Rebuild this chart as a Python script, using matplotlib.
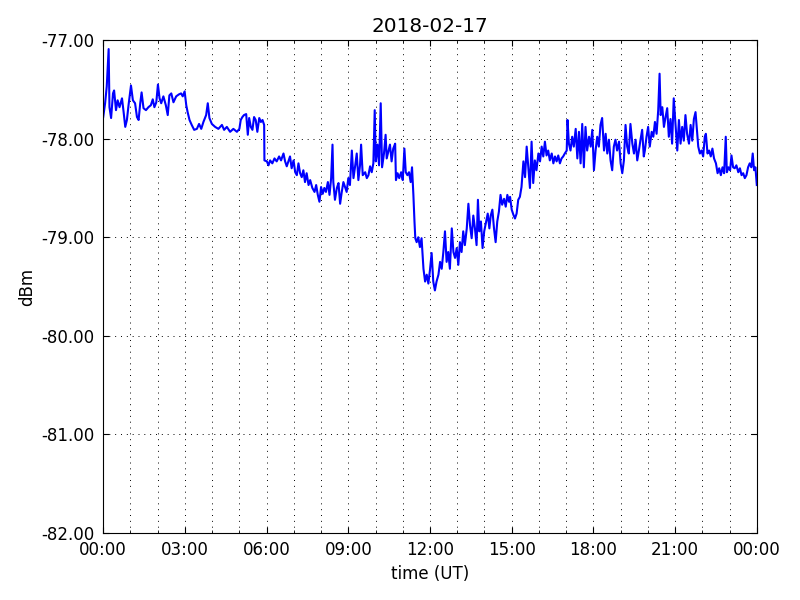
import matplotlib
matplotlib.use("Agg")
import matplotlib.pyplot as plt
import matplotlib.dates as mdates
from matplotlib.ticker import FormatStrFormatter
import numpy as np

day = "2018-02-17"

# hours after 00:00 UT and received level (dBm)
hours = [
    0.0, 0.07, 0.13, 0.2, 0.23, 0.29, 0.36, 0.4, 0.47, 0.53,
    0.6, 0.69, 0.75, 0.81, 0.87, 0.93, 1.02, 1.09, 1.17, 1.24,
    1.3, 1.36, 1.41, 1.48, 1.57, 1.66, 1.75, 1.82, 1.88, 1.95,
    2.01, 2.07, 2.13, 2.21, 2.3, 2.37, 2.43, 2.5, 2.58, 2.68,
    2.78, 2.86, 2.92, 2.99, 3.05, 3.1, 3.17, 3.25, 3.34, 3.44,
    3.52, 3.6, 3.68, 3.78, 3.84, 3.9, 3.99, 4.11, 4.23, 4.36,
    4.44, 4.54, 4.66, 4.78, 4.91, 5.0,
    5.05, 5.11, 5.17, 5.25, 5.31, 5.36, 5.42, 5.48, 5.54, 5.6,
    5.66, 5.73, 5.79, 5.85, 5.91, 5.92, 6.01, 6.07, 6.13, 6.21,
    6.29, 6.37, 6.46, 6.53, 6.62, 6.68, 6.74, 6.8, 6.86, 6.92,
    6.99, 7.05, 7.11, 7.17, 7.23, 7.29, 7.35, 7.41, 7.47, 7.54,
    7.6, 7.68, 7.76, 7.82, 7.88, 7.94, 8.0, 8.06, 8.12, 8.18,
    8.25, 8.31, 8.37, 8.42, 8.45, 8.51, 8.58, 8.64, 8.7, 8.76,
    8.82, 8.88, 8.94, 9.0, 9.06, 9.13, 9.19, 9.25, 9.31, 9.37,
    9.43, 9.47, 9.53, 9.62, 9.68, 9.74, 9.8, 9.86, 9.92,
    9.97, 10.01, 10.07, 10.13, 10.19, 10.24, 10.31, 10.37, 10.41, 10.47,
    10.53, 10.59, 10.65, 10.72, 10.75, 10.81, 10.87, 10.94, 11.0, 11.06,
    11.11, 11.17, 11.23, 11.29, 11.34, 11.39, 11.43, 11.46, 11.51, 11.57,
    11.63, 11.69, 11.76, 11.82, 11.88, 11.94, 12.0, 12.06, 12.12, 12.18,
    12.24, 12.31, 12.37, 12.43, 12.49, 12.55, 12.61, 12.67, 12.73, 12.8,
    12.86, 12.92, 12.98, 13.04, 13.1, 13.16, 13.22, 13.28, 13.35, 13.41,
    13.47, 13.53, 13.59, 13.65, 13.71, 13.76, 13.81, 13.87, 13.93, 13.99,
    14.06, 14.12, 14.18, 14.23, 14.29, 14.35, 14.41, 14.47, 14.53, 14.59,
    14.65, 14.72, 14.78, 14.84, 14.9,
    14.94, 15.0, 15.06, 15.12, 15.18, 15.24, 15.3, 15.36, 15.43, 15.49,
    15.55, 15.61, 15.67, 15.73, 15.79, 15.85, 15.91, 15.98, 16.04, 16.1,
    16.16, 16.22, 16.28, 16.34, 16.4, 16.47, 16.53, 16.59, 16.65, 16.71,
    16.77, 16.83, 16.89, 16.95, 17.02, 17.05, 17.1, 17.16, 17.22, 17.28,
    17.35, 17.41, 17.47, 17.53, 17.59, 17.65, 17.71, 17.77, 17.84, 17.9,
    17.96, 18.02, 18.08, 18.14, 18.2, 18.26, 18.32, 18.39, 18.45, 18.51,
    18.57, 18.63, 18.69, 18.75, 18.81, 18.87, 18.94, 19.0, 19.06, 19.12,
    19.18, 19.24, 19.3, 19.36, 19.43, 19.49, 19.55, 19.61, 19.67, 19.73,
    19.79, 19.85,
    19.89, 19.95, 20.01, 20.07, 20.14, 20.2, 20.26, 20.32, 20.38, 20.43,
    20.47, 20.53, 20.59, 20.65, 20.71, 20.77, 20.83, 20.89, 20.95, 21.02,
    21.08, 21.14, 21.2, 21.26, 21.32, 21.38, 21.44, 21.51, 21.57, 21.63,
    21.69, 21.75, 21.8, 21.85, 21.91, 21.97, 22.03, 22.09, 22.13, 22.19,
    22.25, 22.31, 22.37, 22.43, 22.5, 22.56, 22.62, 22.68, 22.74, 22.8,
    22.86, 22.9, 22.96, 23.02, 23.07, 23.13, 23.19, 23.25, 23.32, 23.38,
    23.44, 23.5, 23.56, 23.62, 23.68, 23.74, 23.8, 23.85, 23.9, 23.95,
    24.0,
]

dbm = [
    -77.78, -77.64, -77.47, -77.09, -77.68, -77.79, -77.54, -77.51, -77.71, -77.61,
    -77.68, -77.59, -77.73, -77.88, -77.81, -77.66, -77.46, -77.61, -77.64, -77.78,
    -77.81, -77.64, -77.53, -77.69, -77.71, -77.68, -77.66, -77.60, -77.68, -77.63,
    -77.45, -77.59, -77.64, -77.57, -77.66, -77.76, -77.56, -77.54, -77.63, -77.57,
    -77.55, -77.54, -77.57, -77.52, -77.66, -77.73, -77.81, -77.86, -77.91, -77.90,
    -77.85, -77.90, -77.83, -77.76, -77.64, -77.79, -77.85, -77.88, -77.90, -77.86,
    -77.91, -77.88, -77.93, -77.90, -77.93, -77.90,
    -77.81, -77.78, -77.76, -77.75, -77.96, -77.79, -77.88, -77.91, -77.78, -77.81,
    -77.93, -77.79, -77.83, -77.81, -77.86, -78.22, -78.23, -78.27, -78.22, -78.25,
    -78.20, -78.23, -78.18, -78.22, -78.15, -78.23, -78.28, -78.23, -78.18, -78.30,
    -78.22, -78.34, -78.37, -78.25, -78.35, -78.39, -78.32, -78.44, -78.35, -78.47,
    -78.42, -78.50, -78.54, -78.47, -78.57, -78.64, -78.49, -78.56, -78.50, -78.54,
    -78.44, -78.57, -78.40, -78.06, -78.44, -78.62, -78.50, -78.45, -78.66, -78.54,
    -78.44, -78.49, -78.54, -78.40, -78.47, -78.12, -78.40, -78.28, -78.15, -78.42,
    -78.27, -78.06, -78.37, -78.34, -78.40, -78.37, -78.28, -78.34, -78.25,
    -77.71, -78.23, -78.06, -78.27, -77.64, -78.29, -78.15, -77.96, -78.20, -78.13,
    -78.06, -78.23, -78.10, -78.05, -78.42, -78.35, -78.40, -78.34, -78.42, -78.10,
    -78.34, -78.37, -78.34, -78.44, -78.29, -78.57, -78.84, -79.01, -79.05, -79.00,
    -79.10, -79.01, -79.32, -79.45, -79.38, -79.47, -79.33, -79.16, -79.45, -79.54,
    -79.45, -79.38, -79.25, -79.32, -79.15, -78.94, -79.25, -79.15, -79.32, -78.91,
    -79.15, -79.21, -79.11, -79.28, -79.05, -79.15, -78.94, -79.08, -78.91, -78.66,
    -78.88, -79.01, -78.78, -78.91, -79.08, -78.62, -78.94, -78.84, -79.11, -78.94,
    -78.84, -78.76, -78.91, -78.78, -78.72, -78.91, -79.05, -78.84, -78.74, -78.57,
    -78.67, -78.61, -78.69, -78.57, -78.64,
    -78.59, -78.72, -78.77, -78.81, -78.76, -78.62, -78.59, -78.49, -78.23, -78.39,
    -78.08, -78.29, -78.50, -78.03, -78.45, -78.22, -78.32, -78.15, -78.23, -78.08,
    -78.18, -78.03, -78.17, -78.12, -78.22, -78.15, -78.25, -78.18, -78.23, -78.17,
    -78.25, -78.20, -78.18, -78.15, -78.12, -77.81, -78.05, -78.12, -77.98, -78.08,
    -77.90, -78.20, -77.93, -78.25, -77.85, -78.29, -77.88, -78.12, -77.98, -78.08,
    -77.91, -78.32, -78.12, -77.98, -78.08, -77.86, -77.79, -78.12, -77.95, -78.15,
    -78.01, -78.22, -78.32, -78.08, -78.01, -78.12, -78.03, -78.25, -78.35, -78.22,
    -77.86, -78.08, -78.15, -77.85, -78.05, -78.15, -78.01, -78.22, -78.12, -78.01,
    -77.91, -78.18,
    -78.12, -77.98, -77.88, -78.08, -77.93, -77.98, -77.83, -77.95, -77.71, -77.34,
    -77.76, -77.68, -77.88, -77.78, -77.69, -77.98, -77.80, -78.05, -77.59, -77.88,
    -78.12, -77.81, -78.05, -77.88, -78.02, -77.76, -77.95, -78.05, -77.86, -78.02,
    -77.80, -77.73, -77.91, -78.08, -78.15, -78.12, -78.18, -77.98, -77.95, -78.15,
    -78.12, -78.18, -78.10, -78.20, -78.25, -78.35, -78.30, -78.37, -78.29, -78.35,
    -77.98, -78.34, -78.29, -78.32, -78.17, -78.29, -78.30, -78.27, -78.34, -78.30,
    -78.37, -78.35, -78.40, -78.37, -78.29, -78.25, -78.29, -78.15, -78.32, -78.29,
    -78.47,
]

t0 = np.datetime64(day + "T00:00")
times = t0 + (np.array(hours) * 3600).astype("timedelta64[s]")

fig = plt.figure(figsize=(8, 6), dpi=100)
ax = fig.add_axes([0.129, 0.112, 0.817, 0.821])

ax.plot(times, dbm, color="b", linewidth=1.5)

ax.set_xlim(t0, t0 + np.timedelta64(24, "h"))
ax.set_ylim(-82, -77)
ax.xaxis.set_major_locator(mdates.HourLocator(byhour=range(0, 24, 3)))
ax.xaxis.set_minor_locator(mdates.HourLocator())
ax.xaxis.set_major_formatter(mdates.DateFormatter("%H:%M"))
ax.yaxis.set_major_formatter(FormatStrFormatter("%.2f"))

ax.tick_params(which="both", direction="in", top=True, right=True, labelsize=12)
ax.tick_params(which="major", length=4, pad=6)
ax.tick_params(which="minor", length=2)
grid_style = dict(color="k", linestyle=(0, (1, 5)), linewidth=0.7)
ax.grid(True, which="major", **grid_style)
ax.xaxis.grid(True, which="minor", **grid_style)

ax.set_title(day, fontsize=14.4)
ax.set_xlabel("time (UT)", fontsize=12)
ax.set_ylabel("dBm", fontsize=12)

fig.savefig("out.png", dpi=100)
